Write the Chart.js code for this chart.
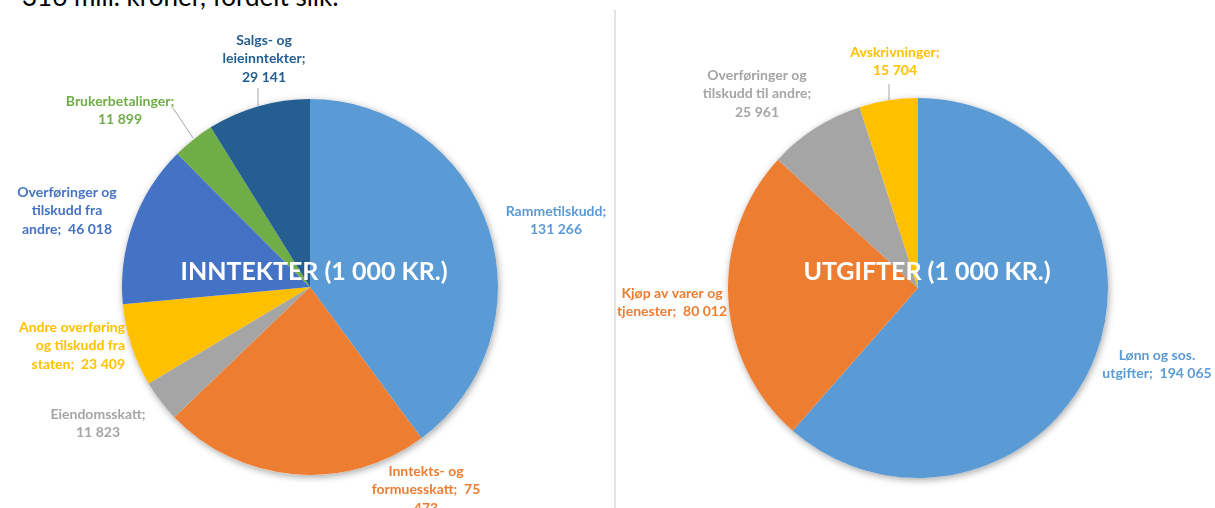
<!DOCTYPE html>
<html>
<head>
<meta charset="utf-8">
<script src="https://cdn.jsdelivr.net/npm/chart.js@4/dist/chart.umd.min.js"></script>
<style>
  body { margin: 0; background: #fff; width: 1215px; height: 508px; overflow: hidden; position: relative; }
  #top { position: absolute; left: 22px; top: -20px; font: 26px Lato, sans-serif; color: #000; white-space: nowrap; }
  #divider { position: absolute; left: 614px; top: 10px; width: 2px; height: 498px; background: #e4e4e4; }
  .wrap { position: absolute; top: 0; height: 508px; }
</style>
</head>
<body>
<div id="top">316 mill. kroner, fordelt slik:</div>
<div id="divider"></div>
<div class="wrap" style="left:0;width:615px"><canvas id="chart1" width="615" height="508"></canvas></div>
<div class="wrap" style="left:615px;width:600px"><canvas id="chart2" width="600" height="508"></canvas></div>
<script>
// inntekter (1 000 kr)
const incomeCategories = ['Rammetilskudd', 'Inntekts- og formuesskatt', 'Eiendomsskatt',
  'Andre overføring og tilskudd fra staten', 'Overføringer og tilskudd fra andre',
  'Brukerbetalinger', 'Salgs- og leieinntekter'];
const incomeValues = [131266, 75473, 11823, 23409, 46018, 11899, 29141];

// utgifter (1 000 kr)
const expenseCategories = ['Lønn og sos. utgifter', 'Kjøp av varer og tjenester',
  'Overføringer og tilskudd til andre', 'Avskrivninger'];
const expenseValues = [194065, 80012, 25961, 15704];

const incomeColors = ['#5B9BD5', '#ED7D31', '#A5A5A5', '#FFC000', '#4472C4', '#70AD47', '#255E91'];
const expenseColors = ['#5B9BD5', '#ED7D31', '#A5A5A5', '#FFC000'];

function fmt(v) {
  return String(v).replace(/\B(?=(\d{3})+(?!\d))/g, ' ');
}

function wrapText(ctx, name, value, maxW) {
  const words = name.split(' ');
  words[words.length - 1] += ';';
  fmt(value).split(' ').forEach((w, i) => words.push(i === 0 ? ' ' + w : w));
  const lines = [];
  let cur = '';
  words.forEach(w => {
    const test = cur ? cur + ' ' + w : w.trim();
    if (cur && ctx.measureText(test).width > maxW) {
      lines.push(cur);
      cur = w.trim();
    } else {
      cur = test;
    }
  });
  if (cur) lines.push(cur);
  return lines;
}

const pieShadow = {
  id: 'pieShadow',
  beforeDatasetsDraw(chart) {
    const arc = chart.getDatasetMeta(0).data[0];
    const ctx = chart.ctx;
    ctx.save();
    ctx.shadowColor = 'rgba(0,0,0,0.35)';
    ctx.shadowBlur = 7;
    ctx.shadowOffsetX = 1;
    ctx.shadowOffsetY = 2;
    ctx.fillStyle = '#fff';
    ctx.beginPath();
    ctx.arc(arc.x, arc.y, arc.outerRadius, 0, Math.PI * 2);
    ctx.fill();
    ctx.restore();
  }
};

const sliceLabels = {
  id: 'sliceLabels',
  afterDraw(chart, args, opts) {
    const ctx = chart.ctx;
    const ds = chart.data.datasets[0];
    const arc = chart.getDatasetMeta(0).data[0];
    ctx.save();
    // leader lines
    ctx.strokeStyle = '#A6A6A6';
    ctx.lineWidth = 1;
    (opts.leaders || []).forEach(l => {
      ctx.beginPath();
      ctx.moveTo(l[0], l[1]);
      ctx.lineTo(l[2], l[3]);
      ctx.stroke();
    });
    ctx.font = 'bold 14px Lato, sans-serif';
    ctx.textBaseline = 'middle';
    opts.spots.forEach((s, i) => {
      const lines = wrapText(ctx, chart.data.labels[i], ds.data[i], s.w);
      ctx.fillStyle = ds.backgroundColor[i];
      ctx.textAlign = s.align || 'center';
      lines.forEach((ln, k) => ctx.fillText(ln, s.x, s.y + k * 18.7));
    });
    // title in the middle of the pie
    ctx.font = 'bold 25px Lato, sans-serif';
    ctx.fillStyle = '#fff';
    ctx.textAlign = 'center';
    ctx.fillText(opts.title, arc.x + opts.titleDx, arc.y + opts.titleDy);
    ctx.restore();
  }
};

function pieOptions(padding, labelOpts) {
  return {
    responsive: false,
    animation: false,
    layout: { padding: padding },
    plugins: {
      legend: { display: false },
      tooltip: { enabled: false },
      sliceLabels: labelOpts
    }
  };
}

const ctx1 = document.getElementById('chart1').getContext('2d');
const ctx2 = document.getElementById('chart2').getContext('2d');

const chart1 = new Chart(ctx1, {
  type: 'pie',
  data: {
    labels: incomeCategories,
    datasets: [{ data: incomeValues, backgroundColor: incomeColors, borderWidth: 0 }]
  },
  options: pieOptions({ left: 122, right: 117, top: 99, bottom: 33 }, {
    title: 'INNTEKTER (1 000 KR.)', titleDx: 4, titleDy: -15,
    spots: [
      { x: 556, y: 211, w: 115 },
      { x: 426, y: 471, w: 110 },
      { x: 98, y: 414, w: 105 },
      { x: 125, y: 327, w: 116, align: 'right' },
      { x: 67, y: 192, w: 105 },
      { x: 120, y: 101, w: 120 },
      { x: 264, y: 40, w: 90 }
    ],
    leaders: [[258, 88, 258, 106], [173, 108, 193, 138]]
  }),
  plugins: [pieShadow, sliceLabels]
});

const chart2 = new Chart(ctx2, {
  type: 'pie',
  data: {
    labels: expenseCategories,
    datasets: [{ data: expenseValues, backgroundColor: expenseColors, borderWidth: 0 }]
  },
  options: pieOptions({ left: 113, right: 107, top: 98, bottom: 30 }, {
    title: 'UTGIFTER (1 000 KR.)', titleDx: 9, titleDy: -16,
    spots: [
      { x: 542, y: 355, w: 115 },
      { x: 57, y: 293, w: 115 },
      { x: 142, y: 75, w: 120 },
      { x: 280, y: 52, w: 100 }
    ],
    leaders: [[274, 84, 274, 100]]
  }),
  plugins: [pieShadow, sliceLabels]
});
</script>
</body>
</html>
